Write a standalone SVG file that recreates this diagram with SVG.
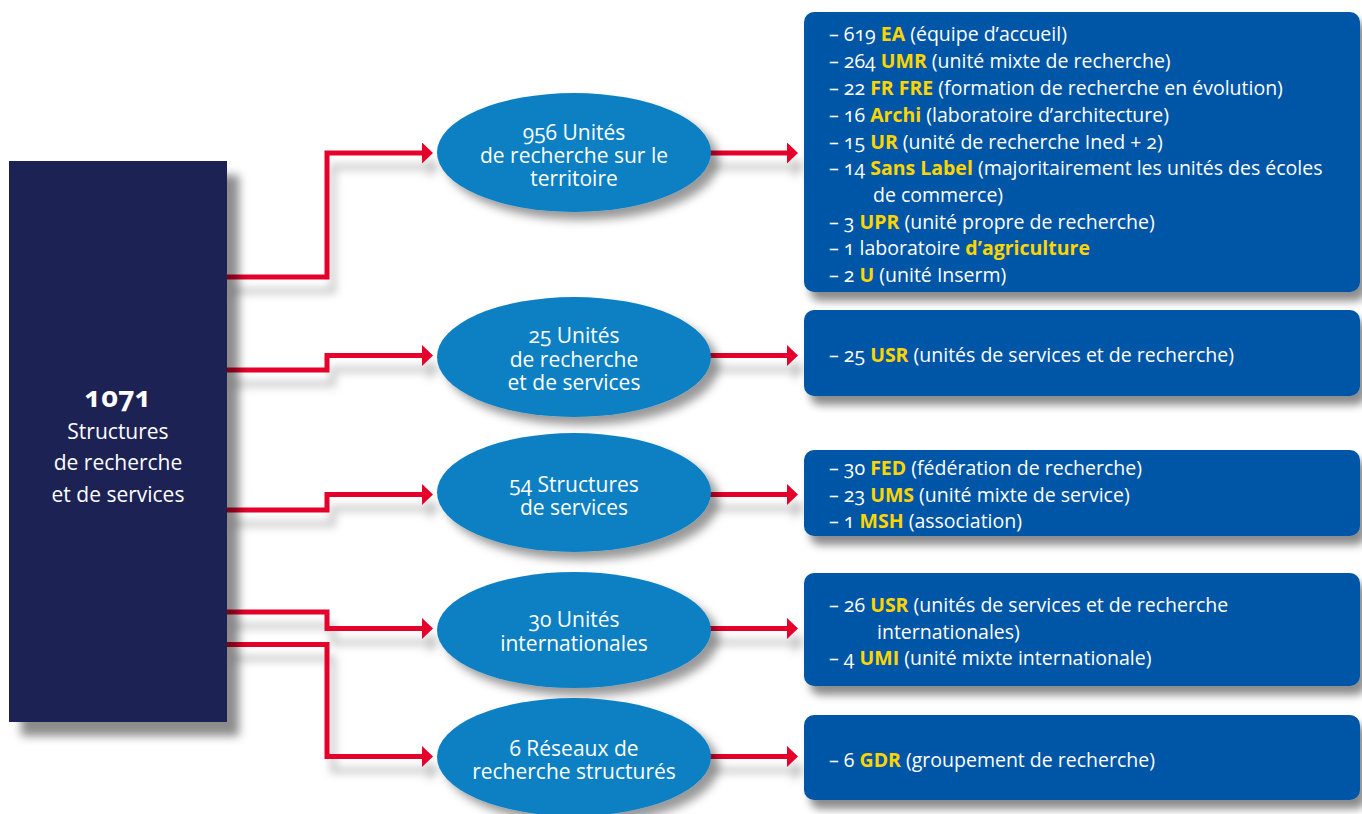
<svg xmlns="http://www.w3.org/2000/svg" width="1362" height="814" viewBox="0 0 1362 814">
  <style>
    .root { fill: #1d2152; }
    .oval { fill: #0a7fc3; }
    .card { fill: #0056a6; }
    .link { fill: none; stroke: #e4002b; stroke-width: 5; stroke-linejoin: miter; }
    .t { font-family: "Open Sans", "Noto Sans", "Liberation Sans", sans-serif; fill: #ffffff; font-variant-numeric: oldstyle-nums; }
    .oval-label { font-size: 21px; text-anchor: middle; }
    .root-label { font-size: 21px; text-anchor: middle; }
    .root-count { font-size: 29px; font-weight: bold; text-anchor: middle; }
    .list { font-size: 19.5px; }
    .k { font-weight: bold; fill: #ffd500; }
  </style>
  <defs>
    <marker id="arrow" viewBox="0 0 11 21" refX="0" refY="10.5" markerWidth="11" markerHeight="21" markerUnits="userSpaceOnUse" orient="auto">
      <path d="M0 0 L11 10.5 L0 21 Z" fill="#e4002b"/>
    </marker>
    <filter id="shadowBig" x="-20%" y="-20%" width="150%" height="150%">
      <feDropShadow dx="12" dy="14" stdDeviation="5" flood-color="#000" flood-opacity="0.45"/>
    </filter>
    <filter id="shadowOval" x="-20%" y="-20%" width="150%" height="160%">
      <feDropShadow dx="8" dy="8" stdDeviation="5" flood-color="#000" flood-opacity="0.4"/>
    </filter>
    <filter id="shadowCard" x="-10%" y="-20%" width="130%" height="160%">
      <feDropShadow dx="6" dy="9" stdDeviation="4" flood-color="#000" flood-opacity="0.45"/>
    </filter>
    <filter id="shadowLink" x="-10%" y="-20%" width="130%" height="160%">
      <feDropShadow dx="6" dy="14" stdDeviation="4" flood-color="#000" flood-opacity="0.25"/>
    </filter>
  </defs>

  <rect width="1362" height="814" fill="#ffffff"/>

  <!-- connectors -->
  <g id="connectors" filter="url(#shadowLink)">
    <path class="link" d="M227 277 H327 V153 H422" marker-end="url(#arrow)"/>
    <path class="link" d="M227 370 H327 V355.5 H422" marker-end="url(#arrow)"/>
    <path class="link" d="M227 510 H327 V494.5 H422" marker-end="url(#arrow)"/>
    <path class="link" d="M227 612 H327 V628.5 H422" marker-end="url(#arrow)"/>
    <path class="link" d="M227 644.5 H327 V756.5 H422" marker-end="url(#arrow)"/>
    <path class="link" d="M705 153 H787" marker-end="url(#arrow)"/>
    <path class="link" d="M705 355.5 H787" marker-end="url(#arrow)"/>
    <path class="link" d="M705 494.5 H787" marker-end="url(#arrow)"/>
    <path class="link" d="M705 628.5 H787" marker-end="url(#arrow)"/>
    <path class="link" d="M705 756.5 H787" marker-end="url(#arrow)"/>
  </g>

  <!-- root node -->
  <g id="root">
    <rect class="root" x="9" y="161" width="218" height="561" filter="url(#shadowBig)"/>
    <text class="t root-count" x="118" y="407">1071</text>
    <text class="t root-label" x="118" y="439"><tspan x="118">Structures</tspan><tspan x="118" dy="31">de recherche</tspan><tspan x="118" dy="32">et de services</tspan></text>
  </g>

  <!-- category ovals -->
  <g id="oval-recherche">
    <ellipse class="oval" cx="574" cy="152.5" rx="137" ry="59.5" filter="url(#shadowOval)"/>
    <text class="t oval-label" x="574" y="140"><tspan x="574">956 Unités</tspan><tspan x="574" dy="23">de recherche sur le</tspan><tspan x="574" dy="23">territoire</tspan></text>
  </g>
  <g id="oval-usr">
    <ellipse class="oval" cx="574" cy="357" rx="137" ry="60" filter="url(#shadowOval)"/>
    <text class="t oval-label" x="574" y="343"><tspan x="574">25 Unités</tspan><tspan x="574" dy="24">de recherche</tspan><tspan x="574" dy="23">et de services</tspan></text>
  </g>
  <g id="oval-services">
    <ellipse class="oval" cx="574" cy="492.5" rx="137" ry="59.5" filter="url(#shadowOval)"/>
    <text class="t oval-label" x="574" y="492"><tspan x="574">54 Structures</tspan><tspan x="574" dy="23">de services</tspan></text>
  </g>
  <g id="oval-internationales">
    <ellipse class="oval" cx="574" cy="630" rx="137" ry="58" filter="url(#shadowOval)"/>
    <text class="t oval-label" x="574" y="627"><tspan x="574">30 Unités</tspan><tspan x="574" dy="24">internationales</tspan></text>
  </g>
  <g id="oval-reseaux">
    <ellipse class="oval" cx="574" cy="757" rx="137" ry="59" filter="url(#shadowOval)"/>
    <text class="t oval-label" x="574" y="756"><tspan x="574">6 Réseaux de</tspan><tspan x="574" dy="23">recherche structurés</tspan></text>
  </g>

  <!-- detail cards -->
  <g id="card-recherche">
    <rect class="card" x="804" y="12" width="556" height="280" rx="10" filter="url(#shadowCard)"/>
    <text class="t list" x="829" y="41">– 619 <tspan class="k">EA</tspan> (équipe d’accueil)</text>
    <text class="t list" x="829" y="68">– 264 <tspan class="k">UMR</tspan> (unité mixte de recherche)</text>
    <text class="t list" x="829" y="95">– 22 <tspan class="k">FR FRE</tspan> (formation de recherche en évolution)</text>
    <text class="t list" x="829" y="122">– 16 <tspan class="k">Archi</tspan> (laboratoire d’architecture)</text>
    <text class="t list" x="829" y="149">– 15 <tspan class="k">UR</tspan> (unité de recherche Ined + 2)</text>
    <text class="t list" x="829" y="175">– 14 <tspan class="k">Sans Label</tspan> (majoritairement les unités des écoles</text>
    <text class="t list" x="873" y="202">de commerce)</text>
    <text class="t list" x="829" y="229">– 3 <tspan class="k">UPR</tspan> (unité propre de recherche)</text>
    <text class="t list" x="829" y="255">– 1 laboratoire <tspan class="k">d’agriculture</tspan></text>
    <text class="t list" x="829" y="282">– 2 <tspan class="k">U</tspan> (unité Inserm)</text>
  </g>
  <g id="card-usr">
    <rect class="card" x="804" y="310" width="556" height="86" rx="10" filter="url(#shadowCard)"/>
    <text class="t list" x="829" y="362">– 25 <tspan class="k">USR</tspan> (unités de services et de recherche)</text>
  </g>
  <g id="card-services">
    <rect class="card" x="804" y="450" width="556" height="86" rx="10" filter="url(#shadowCard)"/>
    <text class="t list" x="829" y="475">– 30 <tspan class="k">FED</tspan> (fédération de recherche)</text>
    <text class="t list" x="829" y="502">– 23 <tspan class="k">UMS</tspan> (unité mixte de service)</text>
    <text class="t list" x="829" y="528">– 1 <tspan class="k">MSH</tspan> (association)</text>
  </g>
  <g id="card-internationales">
    <rect class="card" x="804" y="573" width="556" height="113" rx="10" filter="url(#shadowCard)"/>
    <text class="t list" x="829" y="612">– 26 <tspan class="k">USR</tspan> (unités de services et de recherche</text>
    <text class="t list" x="877" y="639">internationales)</text>
    <text class="t list" x="829" y="665">– 4 <tspan class="k">UMI</tspan> (unité mixte internationale)</text>
  </g>
  <g id="card-reseaux">
    <rect class="card" x="804" y="715" width="556" height="85" rx="10" filter="url(#shadowCard)"/>
    <text class="t list" x="829" y="767">– 6 <tspan class="k">GDR</tspan> (groupement de recherche)</text>
  </g>
</svg>
